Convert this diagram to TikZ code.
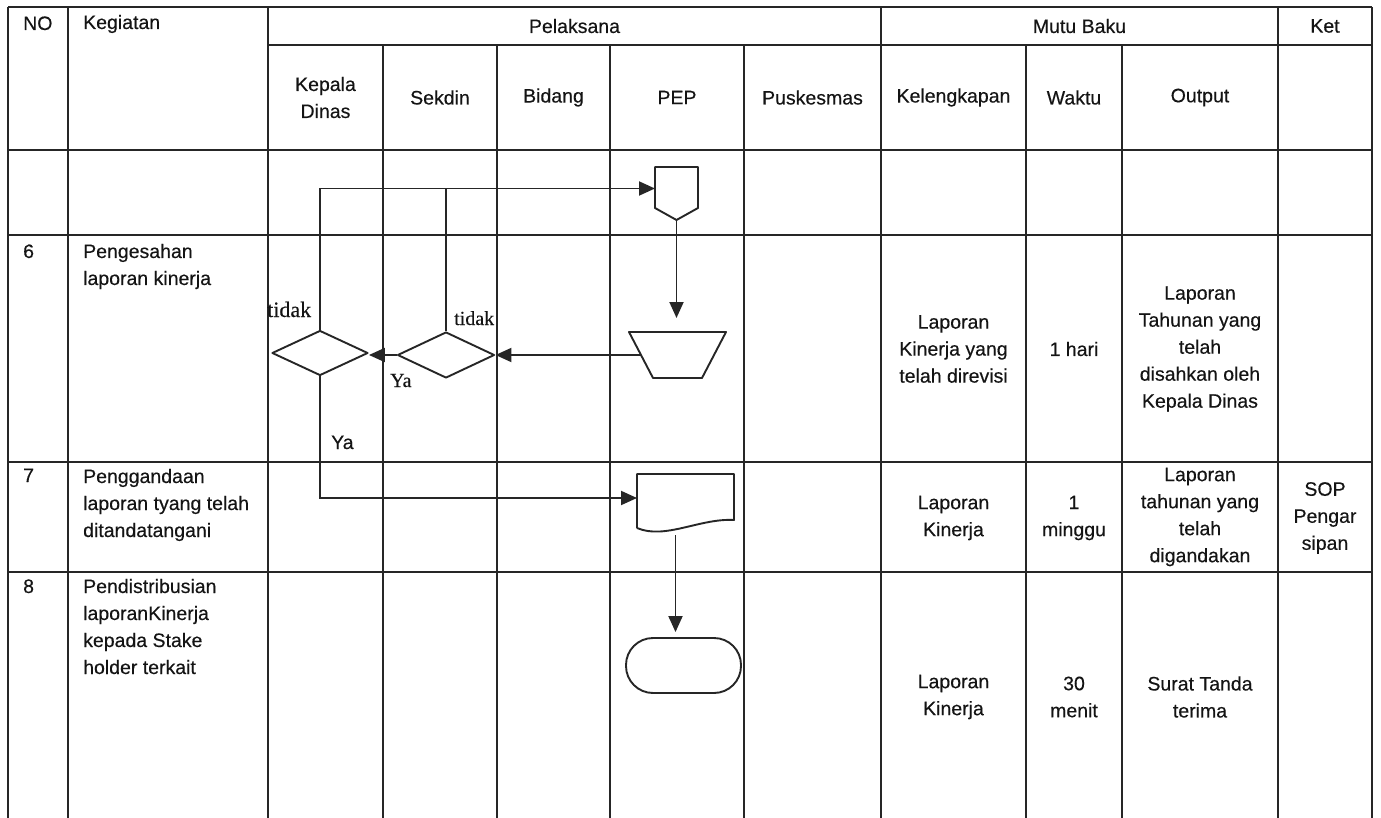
\documentclass[tikz,border=0pt]{standalone}
\usepackage{fontspec}
\setmainfont{Liberation Sans}[FakeBold=0.35]
\newfontfamily\seriffont{Liberation Serif}[FakeBold=0.3]
\usetikzlibrary{arrows.meta,shapes.geometric,calc}
\newcommand{\fs}{\fontsize{19.5}{27}\selectfont}
\newcommand{\tl}[1]{\begin{tabular}[t]{@{}l@{}}#1\end{tabular}}
\tikzset{
  grid/.style={line width=1.8pt, draw=black!85},
  shp/.style={line width=1.9pt, draw=black!85},
  arr/.style={line width=1.9pt, draw=black!85, -{Triangle[length=16pt,width=14pt]}},
  box/.style 2 args={draw=none, inner sep=0pt, outer sep=0pt, minimum width=#1, minimum height=#2},
  txt/.style={font=\fs, text=black!92, inner sep=0pt},
  ctxt/.style={txt, align=center, anchor=center},
  ltxt/.style={txt, anchor=base west},
  stxt/.style={font=\seriffont\fontsize{#1}{#1}\selectfont, text=black!92, inner sep=0pt, anchor=base west}
}
\begin{document}
\begin{tikzpicture}[x=1pt,y=-1pt]
\useasboundingbox (0,0) rectangle (1381,818);
% ---------- grid ----------
\draw[grid] (8,7) -- (1372,7);
\draw[grid] (268,45) -- (1372,45);
\foreach \yy in {150,235,462,572} \draw[grid] (8,\yy) -- (1372,\yy);
\foreach \xx in {8,68,268,881,1278,1372} \draw[grid] (\xx,7) -- (\xx,818);
\foreach \xx in {383,497,610,744,1026,1122} \draw[grid] (\xx,45) -- (\xx,818);
% ---------- header ----------
\node[ltxt] (hno) at (23,30) {NO};
\node[ltxt] (hkeg) at (83,29) {Kegiatan};
\node[ctxt] (hpel) at (574.5,26) {Pelaksana};
\node[ctxt] (hmutu) at (1079.5,26) {Mutu Baku};
\node[ctxt] (hket) at (1325,26) {Ket};
\node[ctxt] (hkd) at (325.5,97.5) {Kepala\\Dinas};
\node[ctxt] (hsek) at (440,97.5) {Sekdin};
\node[ctxt] (hbid) at (553.5,97.5) {Bidang};
\node[ctxt] (hpep) at (677,97.5) {PEP};
\node[ctxt] (hpus) at (812.5,97.5) {Puskesmas};
\node[ctxt] (hkel) at (953.5,97.5) {Kelengkapan};
\node[ctxt] (hwak) at (1074,97.5) {Waktu};
\node[ctxt] (hout) at (1200,97.5) {Output};
% ---------- row texts ----------
\node[ltxt] (n6) at (23,258) {6};
\node[ltxt] (k6) at (83,258) {\tl{Pengesahan\\laporan kinerja}};
\node[ltxt] (n7) at (23,482) {7};
\node[ltxt] (k7) at (83,483) {\tl{Penggandaan\\laporan tyang telah\\ditandatangani}};
\node[ltxt] (n8) at (23,593) {8};
\node[ltxt] (k8) at (83,593) {\tl{Pendistribusian\\laporanKinerja\\kepada Stake\\holder terkait}};
\node[ctxt] (kel6) at (953.5,349) {Laporan\\Kinerja yang\\telah direvisi};
\node[ctxt] (wak6) at (1074,349) {1 hari};
\node[ctxt] (out6) at (1200,349) {Laporan\\Tahunan yang\\telah\\disahkan oleh\\Kepala Dinas};
\node[ctxt] (kel7) at (953.5,518) {Laporan\\Kinerja};
\node[ctxt] (wak7) at (1074,518) {1\\minggu};
\node[ctxt] (out7) at (1200,517) {Laporan\\tahunan yang\\telah\\digandakan};
\node[ctxt] (ket7) at (1325,518) {SOP\\Pengar\\sipan};
\node[ctxt] (kel8) at (953.5,697) {Laporan\\Kinerja};
\node[ctxt] (wak8) at (1074,697) {30\\menit};
\node[ctxt] (out8) at (1200,697) {Surat Tanda\\terima};
% ---------- flow shapes ----------
\node[box={43pt}{53pt}] (off) at (676.5,193.5) {};
\draw[shp, line join=round] (off.north west) -- (off.north east) -- ($(off.south east)+(0,-12)$) -- (off.south) -- ($(off.south west)+(0,-12)$) -- cycle;
\node[box={97pt}{46pt}] (trap) at (677.5,355) {};
\draw[shp, line join=round] (trap.north west) -- (trap.north east) -- ($(trap.south east)+(-24,0)$) -- ($(trap.south west)+(24,0)$) -- cycle;
\node[shp, diamond, line join=round, minimum width=96pt, minimum height=45pt, inner sep=0pt] (d1) at (320,353) {};
\node[shp, diamond, line join=round, minimum width=97pt, minimum height=46pt, inner sep=0pt] (d2) at (446,355) {};
\node[box={97pt}{54pt}] (doc) at (685.5,501) {};
\draw[shp, line join=round] (doc.south west) -- (doc.north west) -- (doc.north east) -- ($(doc.south east)+(0,-8)$) .. controls ($(doc.south east)+(-34,-10)$) and ($(doc.south west)+(28,12)$) .. (doc.south west);
\node[shp, rectangle, rounded corners=27pt, minimum width=115pt, minimum height=55pt] (term) at (683.5,665.5) {};
% ---------- connectors ----------
\coordinate (topy) at ([yshift=5pt]off.west);
\draw[arr] (d1.north) |- (topy);
\draw[shp] (d2.north) -- (d2.north |- topy);
\draw[arr, shorten >=14pt] (off.south) -- (off.south |- trap.north);
\coordinate (trapL) at ($(trap.west)+(12,0)$);
\draw[arr] (trapL) -- (d2.east);
\draw[arr] (d2.west) -- (d2.west -| d1.east);
\draw[arr] (d1.south) |- ([yshift=3pt]doc.west);
\coordinate (docb) at ($(doc.south)+(-10,7)$);
\draw[arr, shorten >=5pt] (docb) -- (docb |- term.north);
% ---------- labels ----------
\node[stxt=22] (tidak1) at (267,317) {tidak};
\node[stxt=20] (tidak2) at (454,325) {tidak};
\node[stxt=20] (ya1) at (390,387) {Ya};
\node[ltxt] (ya2) at (331,449) {Ya};
\end{tikzpicture}
\end{document}
